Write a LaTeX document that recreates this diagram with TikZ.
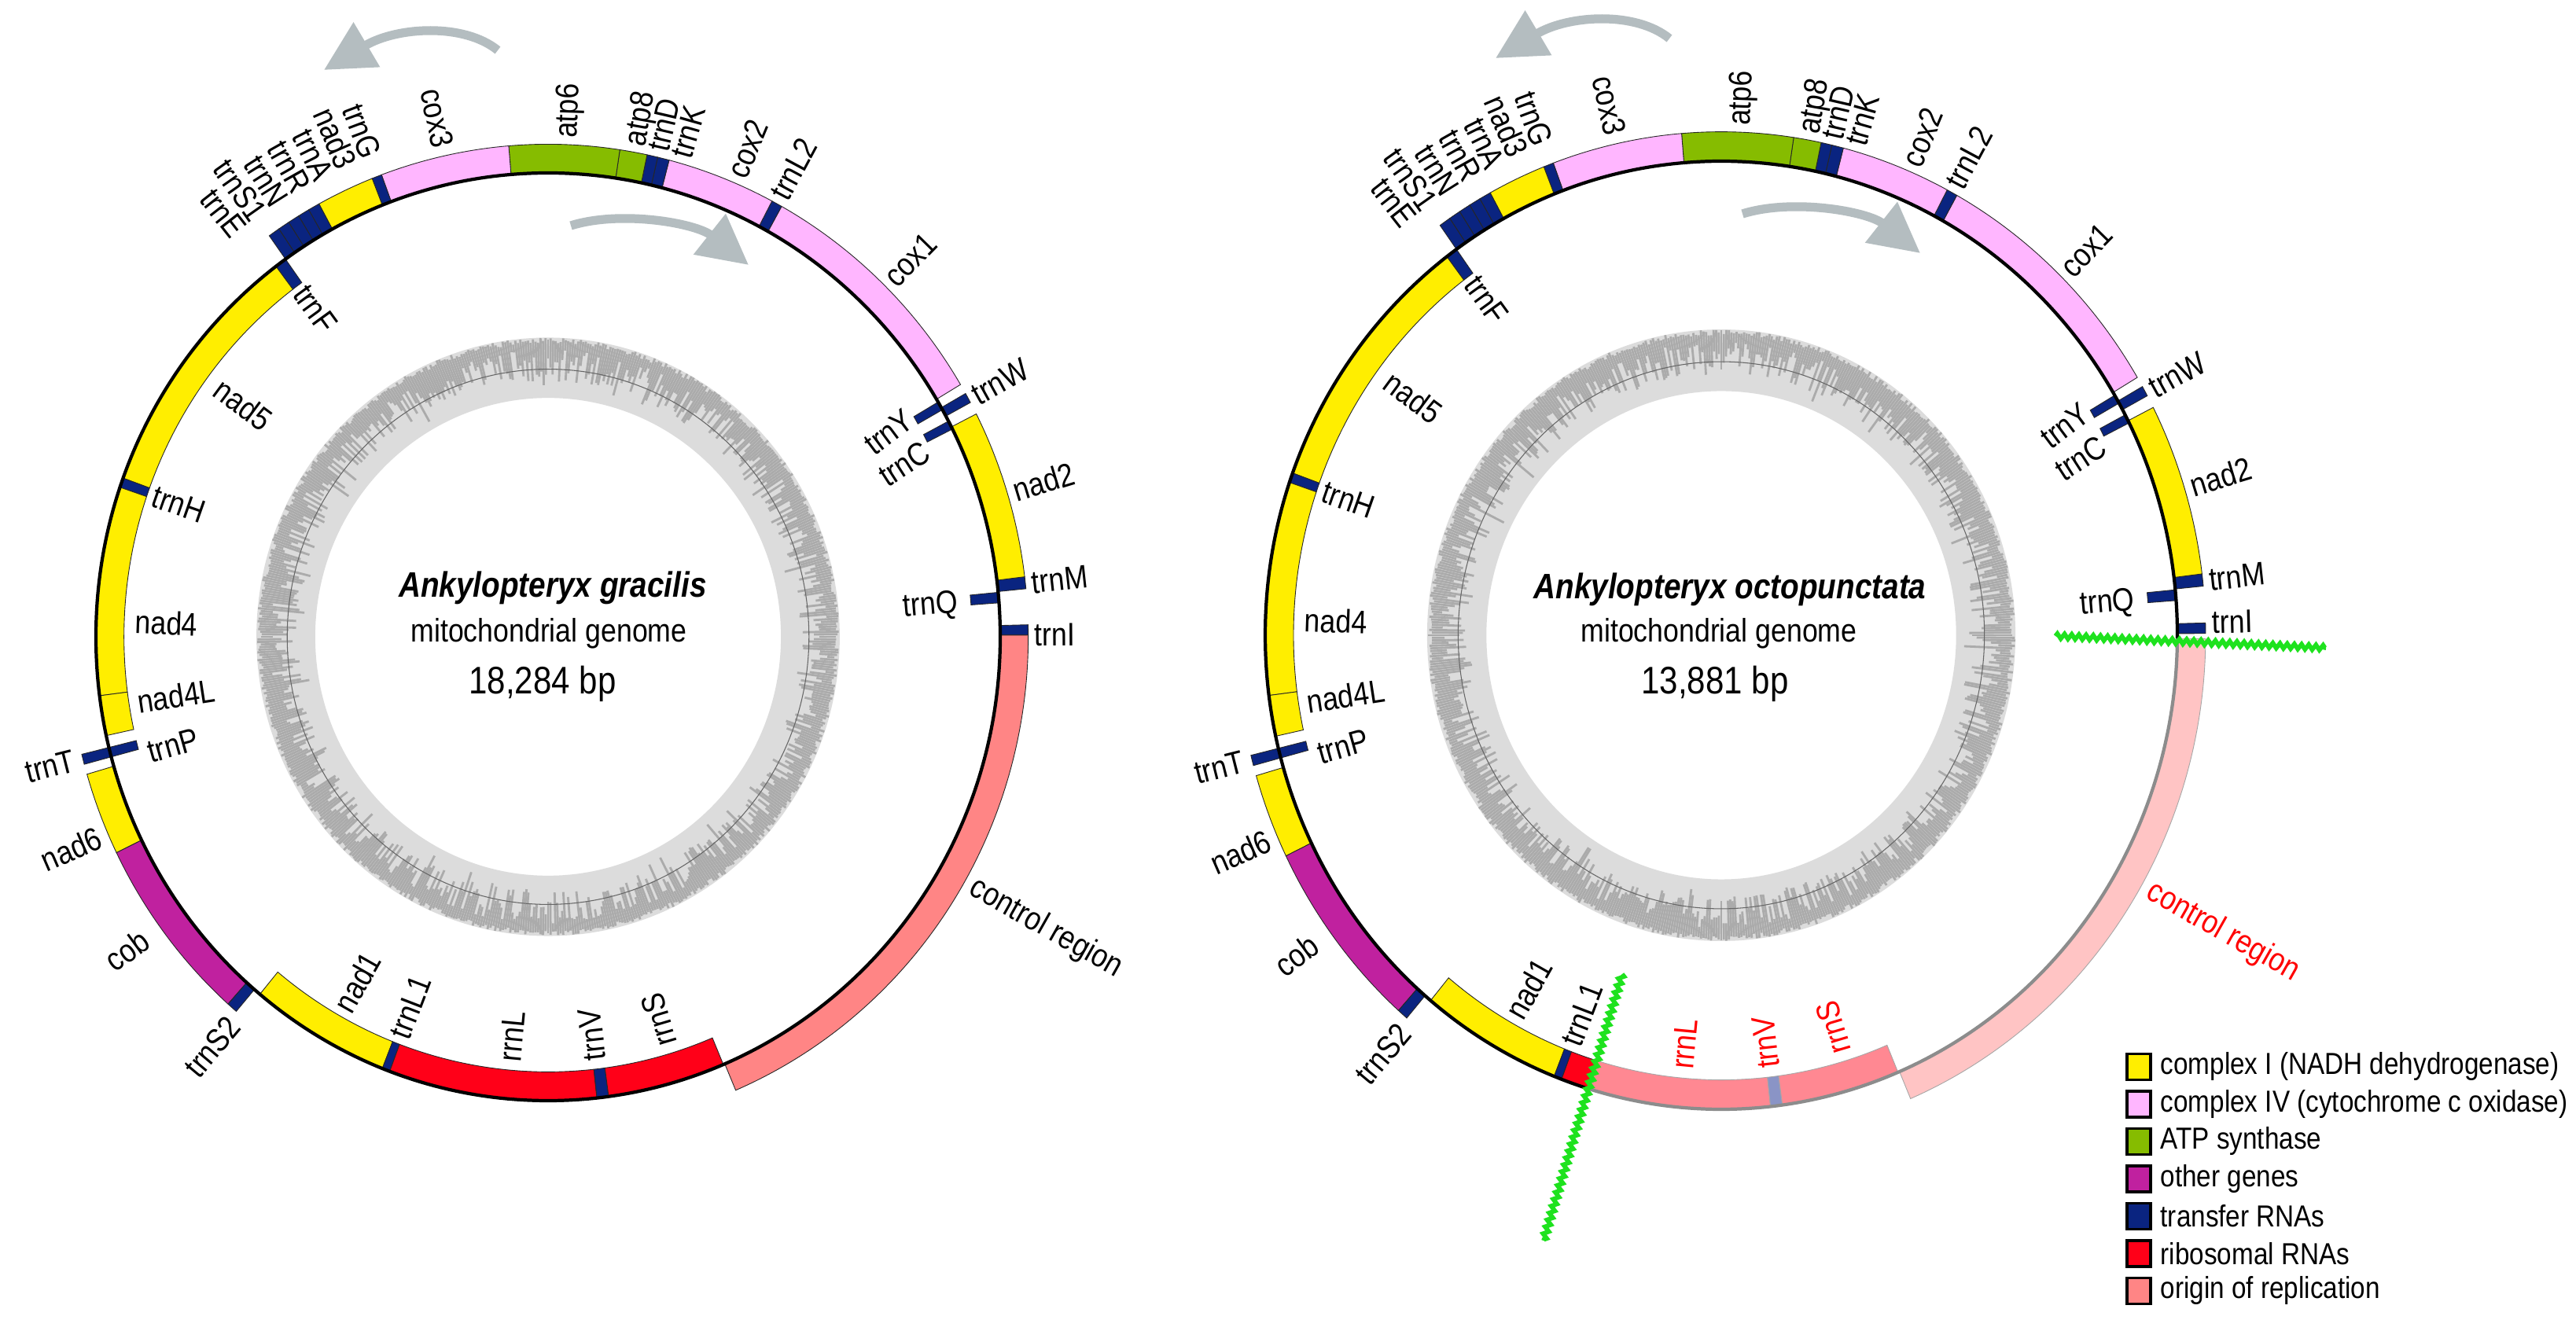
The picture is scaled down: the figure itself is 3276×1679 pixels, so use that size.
\documentclass[tikz,border=0pt]{standalone}
\usepackage{fontspec}
\setmainfont{Liberation Sans}[FakeStretch=0.86]
\usetikzlibrary{arrows.meta,decorations.pathmorphing}

\definecolor{cI}{HTML}{FFEE00}
\definecolor{cIV}{HTML}{FFB6FF}
\definecolor{catp}{HTML}{86BC00}
\definecolor{coth}{HTML}{C0219F}
\definecolor{ctrn}{HTML}{0A2480}
\definecolor{crrn}{HTML}{FF0018}
\definecolor{cori}{HTML}{FF8585}
\definecolor{frrn}{HTML}{FF8892}
\definecolor{ftrn}{HTML}{8A94C6}
\definecolor{fori}{HTML}{FFC4C4}
\definecolor{gclight}{HTML}{DCDCDC}
\definecolor{gcdark}{HTML}{ABABAB}
\definecolor{arrowgrey}{HTML}{B4BDC0}
\definecolor{cutgreen}{HTML}{1EE21E}

\newcommand{\gseg}[5]{\filldraw[#5] (#1:#3) arc[start angle=#1, end angle=#2, radius=#3] -- (#2:#4) arc[start angle=#2, end angle=#1, radius=#4] -- cycle;}
\newcommand{\outseg}[3]{\gseg{#1}{#2}{100}{106.2}{box,fill=#3}}
\newcommand{\inseg}[3]{\gseg{#1}{#2}{93.8}{100}{box,fill=#3}}
% labels: [opts]{name}{angle}{radius}{text}
\newcommand{\labOR}[5][]{\node[lbl,#1,anchor=west,rotate=#3] (\pfx-#2) at (#3:#4) {#5};}
\newcommand{\labOL}[5][]{\node[lbl,#1,anchor=east,rotate=#3-180] (\pfx-#2) at (#3:#4) {#5};}
\newcommand{\labIR}[5][]{\node[lbl,#1,anchor=east,rotate=#3] (\pfx-#2) at (#3:#4) {#5};}
\newcommand{\labIL}[5][]{\node[lbl,#1,anchor=west,rotate=#3-180] (\pfx-#2) at (#3:#4) {#5};}

\newcommand{\gcring}{%
  \fill[gclight, even odd rule] (0,0) circle[radius=64.5] (0,0) circle[radius=51.5];
  \foreach \a in {0,0.5,...,359.5}{%
    \pgfmathsetmacro{\rr}{58.5+3.5*rand-2.5*(rnd>0.85)*rnd}%
    \pgfmathsetmacro{\ro}{64.5-1.2*rnd}%
    \draw[gcdark, line width=0.8pt] (\a:\ro) -- (\a:\rr);}
  \draw[black!60, line width=0.3pt] (0,0) circle[radius=57.7];
}

\newcommand{\commonsegs}{%
  \outseg{0.2}{1.4}{ctrn}
  \outseg{5.6}{7.0}{ctrn}
  \outseg{7.0}{26.9}{cI}
  \outseg{28.4}{29.6}{ctrn}
  \outseg{30.8}{60.9}{cIV}
  \outseg{60.9}{62.2}{ctrn}
  \outseg{62.2}{75.4}{cIV}
  \outseg{75.4}{76.8}{ctrn}
  \outseg{76.8}{78.1}{ctrn}
  \outseg{78.1}{81.4}{catp}
  \outseg{81.4}{94.7}{catp}
  \outseg{94.7}{110.3}{cIV}
  \outseg{110.3}{111.5}{ctrn}
  \outseg{111.5}{118.5}{cI}
  \outseg{118.5}{119.9}{ctrn}
  \outseg{119.9}{121.3}{ctrn}
  \outseg{121.3}{122.7}{ctrn}
  \outseg{122.7}{124.1}{ctrn}
  \outseg{124.1}{125.5}{ctrn}
  \outseg{193.8}{195.0}{ctrn}
  \outseg{196.2}{206}{cI}
  \outseg{206}{228.2}{coth}
  \outseg{228.2}{229.5}{ctrn}
  \inseg{4.2}{5.5}{ctrn}
  \inseg{26.6}{27.7}{ctrn}
  \inseg{29.3}{30.4}{ctrn}
  \inseg{125.5}{127}{ctrn}
  \inseg{127}{160}{cI}
  \inseg{160}{161.2}{ctrn}
  \inseg{161.2}{187.3}{cI}
  \inseg{187.3}{192.3}{cI}
  \inseg{193.8}{195}{ctrn}
  \inseg{230.4}{248.5}{cI}
  \inseg{248.5}{249.5}{ctrn}
}

\newcommand{\genelabels}{%
  \labOR{atp6}{88}{107.5}{atp6}
  \labOR{atp8}{79.9}{107.5}{atp8}
  \labOR{trnD}{77}{107.5}{trnD}
  \labOR{trnK}{74.2}{107.5}{trnK}
  \labOR{cox2}{67.3}{107.5}{cox2}
  \labOR{trnL2}{61.8}{107.5}{trnL2}
  \labOR{cox1}{45.5}{107.5}{cox1}
  \labOR{trnW}{28.9}{107.5}{trnW}
  \labOR{nad2}{17}{107.5}{nad2}
  \labOR{trnM}{6.3}{107.5}{trnM}
  \labOR{trnI}{\trnIang}{107.5}{trnI}
  \labOR[speclbl]{ctrl}{-29.5}{108}{control region}
  \labOL{cox3}{102.3}{108}{cox3}
  \labOL{trnG}{110.6}{110.5}{trnG}
  \labOL{nad3}{113.6}{110.5}{nad3}
  \labOL{trnA}{116.5}{110.5}{trnA}
  \labOL{trnR}{119.4}{110.5}{trnR}
  \labOL{trnN}{122.3}{110.5}{trnN}
  \labOL{trnS1}{125.2}{110.5}{trnS1}
  \labOL{trnE}{128.1}{110.5}{trnE}
  \labOL{trnT}{194.2}{108}{trnT}
  \labOL{nad6}{203.5}{108}{nad6}
  \labOL{cob}{216}{110}{cob}
  \labOL{trnS2}{230}{108}{trnS2}
  \labIR{trnQ}{4.9}{91}{trnQ}
  \labIR[rotate=6]{trnY}{30.8}{93}{trnY}
  \labIR[rotate=7]{trnC}{25.8}{93}{trnC}
  \labIL{trnF}{126}{93}{trnF}
  \labIL{nad5}{143.5}{91}{nad5}
  \labIL{trnH}{160.7}{92.5}{trnH}
  \labIL{nad4}{178}{91.5}{nad4}
  \labIL{nad4L}{188.8}{92}{nad4L}
  \labIL{trnP}{195.7}{92}{trnP}
  \labIL{nad1}{240.4}{92.5}{nad1}
  \labIL{trnL1}{249}{92.5}{trnL1}
  \labIL[speclbl]{rrnL}{264.6}{92}{rrnL}
  \labIL[speclbl]{trnV}{276.4}{92}{trnV}
  \labIL[speclbl]{rrnS}{286.5}{92}{rrnS}
}

\begin{document}
\begin{tikzpicture}[x=0.01cm,y=0.01cm,
  box/.style={draw=black!85, line width=0.25pt},
  fbox/.style={draw=black!35, line width=0.25pt},
  lbl/.style={font=\fontsize{11.8}{14}\selectfont, inner sep=0pt, text height=8.4pt, text depth=0pt},
  speclbl/.style={},
  mainline/.style={line width=1.2pt, black},
  greyline/.style={line width=1.2pt, black!45},
  garrow/.style={draw=arrowgrey, line width=3.2pt, -{Triangle[length=18pt,width=18pt]}},
  cut/.style={draw=cutgreen, line width=1.6pt, decorate, decoration={zigzag, amplitude=0.9pt, segment length=2.6pt}},
  legsq/.style={draw=black, line width=0.9pt, minimum width=0.30cm, minimum height=0.33cm, inner sep=0pt},
  legtxt/.style={anchor=west, inner sep=0pt, font=\fontsize{11}{13}\selectfont}
]
\useasboundingbox (0,0) rectangle (3276,1679);
\fill[white] (0,0) rectangle (3276,1679);

% ================= LEFT GENOME =================
\def\pfx{L}
\def\trnIang{0.3}
\begin{scope}[shift={(697,869)}, xscale=5.75, yscale=5.90]
  \pgfmathsetseed{11}
  \gcring
  \commonsegs
  \inseg{249.5}{276.2}{crrn}
  \inseg{276.2}{277.7}{ctrn}
  \inseg{277.7}{292.8}{crrn}
  \outseg{293}{360.2}{cori}
  \draw[mainline] (0,0) circle[radius=100];
  \genelabels
\end{scope}
\draw[garrow] (633,1615) .. controls (590,1650) and (505,1645) .. (412,1590);
\draw[garrow] (726,1392) .. controls (790,1412) and (885,1395) .. (952,1342);
\node[font=\fontsize{12.8}{15}\selectfont\bfseries\itshape] (L-title) at (703,931) {Ankylopteryx gracilis};
\node[font=\fontsize{11.8}{14}\selectfont] (L-mito) at (698,873) {mitochondrial genome};
\node[font=\fontsize{13.9}{16}\selectfont] (L-size) at (690,809) {18,284 bp};

% ================= RIGHT GENOME =================
\def\pfx{R}
\def\trnIang{1.5}
\begin{scope}[shift={(2189,871)}, xscale=5.80, yscale=6.03, speclbl/.style={text=red}]
  \pgfmathsetseed{23}
  \gcring
  \commonsegs
  \inseg{249.5}{253}{crrn}
  \gseg{253}{276.2}{93.8}{100}{fbox,fill=frrn}
  \gseg{276.2}{277.7}{93.8}{100}{fbox,fill=ftrn}
  \gseg{277.7}{292.8}{93.8}{100}{fbox,fill=frrn}
  \gseg{293}{359.6}{100}{106.2}{fbox,fill=fori}
  \draw[mainline] (-0.4:100) arc[start angle=-0.4, end angle=253, radius=100];
  \draw[greyline] (253:100) arc[start angle=253, end angle=359.6, radius=100];
  \genelabels
\end{scope}
\draw[garrow] (2123,1630) .. controls (2080,1665) and (1995,1660) .. (1902,1605);
\draw[garrow] (2216,1407) .. controls (2280,1427) and (2375,1410) .. (2442,1357);
\node[font=\fontsize{12.8}{15}\selectfont\bfseries\itshape] (R-title) at (2200,929) {Ankylopteryx octopunctata};
\node[font=\fontsize{11.8}{14}\selectfont] (R-mito) at (2186,873) {mitochondrial genome};
\node[font=\fontsize{13.9}{16}\selectfont] (R-size) at (2181,809) {13,881 bp};

% cut marks
\coordinate (g1a) at (2614,870);
\coordinate (g1b) at (2958,855);
\coordinate (g2a) at (2063,440);
\coordinate (g2b) at (1963,101);
\draw[cut] (g1a) -- (g1b);
\draw[cut] (g2a) -- (g2b);

% ================= LEGEND =================
\node[legsq, fill=cI]   (sq1) at (2720,322) {};
\node[legsq, fill=cIV]  (sq2) at (2720,274.5) {};
\node[legsq, fill=catp] (sq3) at (2720,227) {};
\node[legsq, fill=coth] (sq4) at (2720,179.5) {};
\node[legsq, fill=ctrn] (sq5) at (2720,132) {};
\node[legsq, fill=crrn] (sq6) at (2720,84.5) {};
\node[legsq, fill=cori] (sq7) at (2720,37) {};
\node[legtxt] (lt1) at (2747,322) {complex I (NADH dehydrogenase)};
\node[legtxt] (lt2) at (2747,274.5) {complex IV (cytochrome c oxidase)};
\node[legtxt] (lt3) at (2747,227) {ATP synthase};
\node[legtxt] (lt4) at (2747,179.5) {other genes};
\node[legtxt] (lt5) at (2747,132) {transfer RNAs};
\node[legtxt] (lt6) at (2747,84.5) {ribosomal RNAs};
\node[legtxt] (lt7) at (2747,37) {origin of replication};
\end{tikzpicture}
\end{document}
